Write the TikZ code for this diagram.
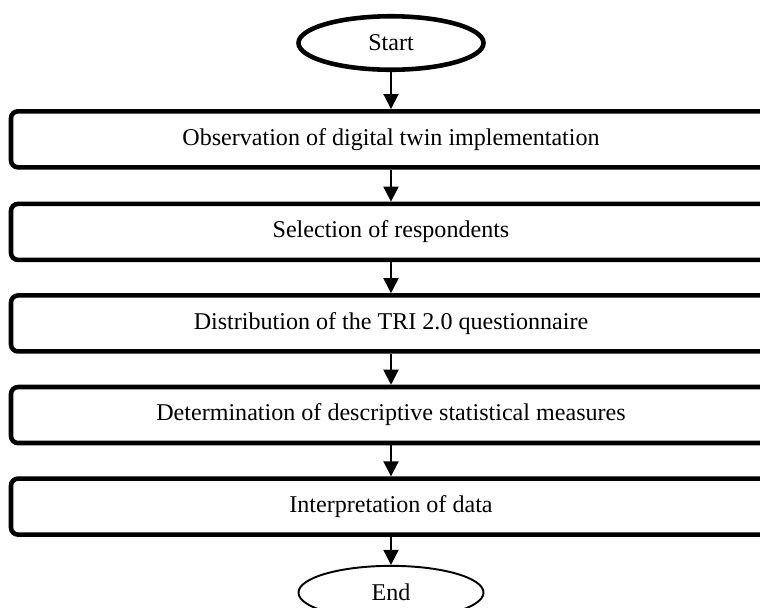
\documentclass[tikz,border=0pt]{standalone}
\usepackage{fontspec}
\setmainfont{Liberation Serif}
\usepackage{tikz}
\usetikzlibrary{arrows.meta, positioning, shapes.geometric}

\begin{document}
\begin{tikzpicture}[
    scale=1,
    stepbox/.style={font=\fontsize{13.7}{16}\selectfont, minimum width=15.2cm, minimum height=1.12cm, draw, line width=2.6pt, rounded corners=0.14cm, align=center, inner sep=2pt},
    terminal/.style={ellipse, font=\fontsize{13.7}{16}\selectfont, minimum width=3.7cm, minimum height=1.07cm, draw, inner sep=0pt},
    flow/.style={-{Triangle[length=0.3cm, width=0.3cm]}, line width=1.1pt}
]

  % Page frame (the boxes run past the right edge)
  \useasboundingbox (0,0) rectangle (15.2,-12.14);
  \clip (0,0) rectangle (15.2,-12.14);

  % Start and the steps, one under the other
  \node[terminal, line width=2.6pt] (start) at (7.82,-0.86) {Start};
  \node[stepbox, below=0.74cm of start] (observe) {Observation of digital twin implementation};
  \node[stepbox, below=0.64cm of observe] (select) {Selection of respondents};
  \node[stepbox, below=0.62cm of select] (distrib) {Distribution of the TRI 2.0 questionnaire};
  \node[stepbox, below=0.62cm of distrib] (measures) {Determination of descriptive statistical measures};
  \node[stepbox, below=0.62cm of measures] (interp) {Interpretation of data};
  \node[terminal, line width=1.1pt, below=0.56cm of interp] (finish) {End};

  % Arrows between them
  \draw[flow] (start) -- (observe);
  \draw[flow] (observe) -- (select);
  \draw[flow] (select) -- (distrib);
  \draw[flow] (distrib) -- (measures);
  \draw[flow] (measures) -- (interp);
  \draw[flow] (interp) -- (finish);

\end{tikzpicture}
\end{document}
